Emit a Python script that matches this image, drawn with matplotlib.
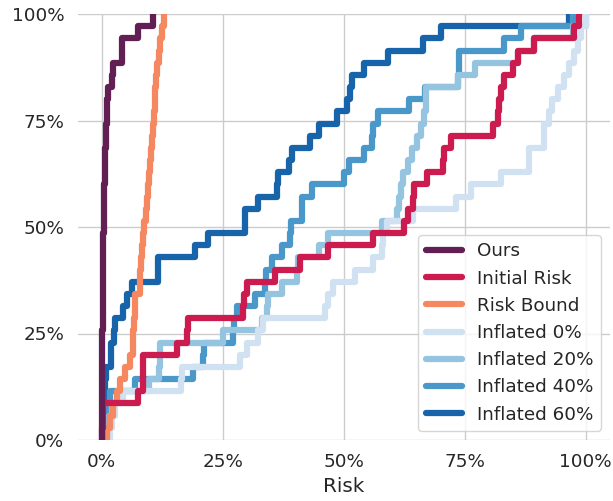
import numpy as np
import matplotlib
matplotlib.use("Agg")
import matplotlib.pyplot as plt
from matplotlib.ticker import PercentFormatter
import seaborn as sns

# sorted risk values (in %) of the 35 runs, one list per method
ours = [0.0, 0.0, 0.05, 0.05, 0.1, 0.1, 0.1, 0.15, 0.15, 0.2, 0.2, 0.25, 0.25, 0.3,
        0.3, 0.35, 0.35, 0.4, 0.45, 0.5, 0.55, 0.6, 0.65, 0.7, 0.8, 0.9, 1.0, 1.1,
        1.3, 2.2, 2.3, 4.2, 4.2, 7.5, 10.6]
initial_risk = [0.1, 0.2, 0.3, 7.5, 8.5, 8.5, 8.6, 15.6, 17.6, 17.8, 29.2, 29.3, 30.1,
                35.9, 41.0, 46.8, 56.1, 62.4, 63.2, 64.4, 64.5, 67.3, 70.6, 70.7, 72.1,
                80.8, 81.8, 82.0, 82.4, 83.1, 85.0, 86.0, 89.3, 97.6, 98.6]
risk_bound = [1.0, 1.7, 2.4, 3.1, 3.8, 4.8, 5.8, 6.4, 6.5, 6.6, 6.8, 6.9, 7.9, 8.0,
              8.2, 8.4, 8.6, 8.8, 9.1, 9.4, 9.6, 9.8, 10.0, 10.2, 10.4, 10.6, 10.8,
              11.0, 11.1, 11.3, 11.5, 11.8, 12.1, 12.5, 12.8]
inflated_0 = [1.7, 2.1, 2.7, 4.3, 16.4, 16.6, 28.6, 30.1, 32.3, 33.4, 46.2, 46.8, 47.7,
              52.4, 56.1, 58.0, 58.2, 59.0, 64.4, 73.1, 76.2, 82.4, 88.2, 88.3, 91.3,
              91.4, 92.3, 93.0, 94.2, 95.5, 96.6, 97.5, 98.4, 99.1, 100.0]
inflated_20 = [1.0, 1.5, 2.2, 3.3, 9.8, 11.8, 12.0, 12.1, 25.1, 33.2, 34.2, 34.3, 37.3,
               40.4, 40.5, 44.8, 46.8, 58.0, 61.1, 61.5, 61.9, 62.3, 63.2, 64.2, 65.2,
               65.9, 66.5, 66.9, 67.0, 73.7, 77.2, 85.9, 89.3, 97.4, 100.0]
inflated_40 = [0.8, 1.0, 1.4, 1.7, 6.9, 18.9, 21.0, 21.1, 27.2, 27.3, 28.0, 31.7, 33.8,
               33.9, 35.2, 37.2, 38.9, 39.0, 41.3, 41.4, 43.5, 50.0, 51.0, 54.1, 55.9,
               56.1, 57.0, 63.4, 66.7, 73.7, 73.8, 73.9, 83.2, 86.6, 97.3]
inflated_60 = [0.2, 0.3, 0.4, 0.5, 0.7, 0.9, 1.9, 2.0, 2.6, 2.7, 4.4, 5.2, 6.3, 11.6,
               11.7, 19.3, 22.0, 29.6, 29.7, 32.3, 36.3, 36.4, 38.6, 39.4, 43.1, 44.8,
               48.7, 50.7, 51.3, 51.7, 54.1, 59.2, 66.3, 70.0, 96.5]

labels = ["Ours", "Initial Risk", "Risk Bound", "Inflated 0%", "Inflated 20%",
          "Inflated 40%", "Inflated 60%"]
series = [ours, initial_risk, risk_bound, inflated_0, inflated_20, inflated_40, inflated_60]

sns.set_theme(style="whitegrid", font_scale=1.2)
colors = sns.color_palette("rocket", 3) + sns.color_palette("Blues", 4)

fig = plt.figure(figsize=(6.13, 5.01), dpi=100)
ax = fig.add_axes([77.5 / 613, 1 - 440 / 501, 532.5 / 613, 426 / 501])

# draw the last series first so "Ours" ends up on top
handles = {}
for label, vals, color in reversed(list(zip(labels, series, colors))):
    x = np.sort(np.array(vals)) / 100
    y = np.arange(len(x) + 1) / len(x)
    line, = ax.step(np.r_[x[0], x], y, where="post", color=color, lw=4.5,
                    solid_capstyle="round", label=label)
    handles[label] = line

ax.set_xlim(-0.05, 1.05)
ax.set_ylim(0, 1)
ax.set_xticks([0, 0.25, 0.5, 0.75, 1])
ax.set_yticks([0, 0.25, 0.5, 0.75, 1])
ax.xaxis.set_major_formatter(PercentFormatter(1.0, decimals=0))
ax.yaxis.set_major_formatter(PercentFormatter(1.0, decimals=0))
ax.set_xlabel("Risk")
sns.despine(left=True, bottom=True)

ax.legend([handles[l] for l in labels], labels, loc="lower right")

fig.savefig("out.png", dpi=100)
